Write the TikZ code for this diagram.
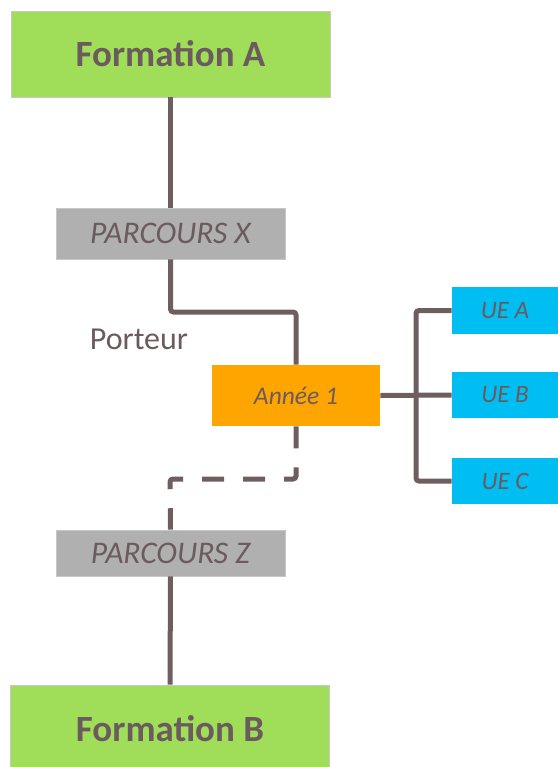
\documentclass[tikz,border=0pt]{standalone}
\usepackage{fontspec}
\setmainfont{Carlito}
\definecolor{txt}{HTML}{6B5B5E}
\definecolor{ln}{HTML}{6F5E60}
\definecolor{grn}{HTML}{A0DE5A}
\definecolor{gry}{HTML}{B0B0B0}
\definecolor{org}{HTML}{FFA500}
\definecolor{blu}{HTML}{00BDF2}
\begin{document}
\begin{tikzpicture}[x=1pt,y=-1pt,
  box/.style={rectangle, draw=black!22, line width=0.8pt, inner sep=0pt, text=txt},
  formbox/.style={box, fill=grn, minimum width=319pt, font=\bfseries\fontsize{37}{40}\selectfont},
  parbox/.style={box, fill=gry, minimum width=229pt, font=\itshape\fontsize{31.5}{34}\selectfont},
  anbox/.style={box, fill=org, draw=none, minimum width=168pt, minimum height=61pt, font=\itshape\fontsize{25.5}{28}\selectfont},
  uebox/.style={box, fill=blu, draw=none, minimum width=106pt, font=\itshape\fontsize{25}{28}\selectfont},
  conn/.style={draw=ln, line width=5pt, rounded corners=3pt},
  dconn/.style={conn, dash pattern=on 22pt off 19pt}]
\useasboundingbox (0,0) rectangle (557,767);
\node[formbox, minimum height=86pt] (fa) at (170.5,54) {Formation A};
\node[parbox, minimum height=51pt] (px) at (170.5,233.5) {PARCOURS X};
\node[anbox] (an) at (296,395.5) {Année 1};
\node[uebox, minimum height=47pt] (ua) at (505,310.5) {UE A};
\node[uebox, minimum height=46pt] (ub) at (505,395) {UE B};
\node[uebox, minimum height=46pt] (uc) at (505,481) {UE C};
\node[parbox, minimum height=46pt] (pz) at (170.5,553) {PARCOURS Z};
\node[formbox, minimum height=88pt] (fb) at (170,729) {Formation B};
\node[text=txt, font=\fontsize{32}{34}\selectfont, inner sep=0pt] (port) at (139,339) {Porteur};
\coordinate (k1) at (296,312);
\coordinate (k2) at (170,479);
\coordinate (bus) at (416,395);
\draw[conn] (fa.south) -- (px.north);
\draw[conn] (px.south) |- (k1) -- (an.north);
\draw[conn] (an.east) -- (ub.west);
\draw[conn] (ua.west) -| (bus) |- (uc.west);
\draw[dconn] (an.south) |- (k2) -- (pz.north);
\draw[conn] (pz.south) -- (fb.north);
\end{tikzpicture}
\end{document}
